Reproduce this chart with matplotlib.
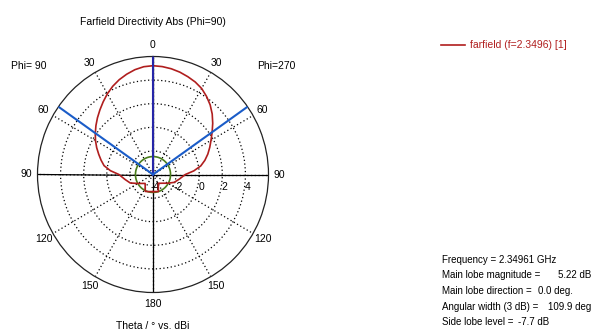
import numpy as np
import matplotlib
matplotlib.use("Agg")
import matplotlib.pyplot as plt

plt.rcParams['font.family'] = ['Liberation Sans', 'DejaVu Sans']

# Directivity cuts (dBi) versus theta (deg) for the two half-planes
theta_phi90 = [0, 5, 10, 15, 20, 25, 30, 35, 40, 45, 50, 55, 60, 65, 70, 75, 80, 85, 90,
               100, 110, 120, 130, 138, 145, 155, 165, 180]
dbi_phi90 = [5.22, 5.17, 5.02, 4.8, 4.55, 4.25, 3.9, 3.52, 3.15, 2.8, 2.45, 2.1, 1.75,
             1.38, 1.0, 0.65, 0.3, -0.3, -1.05,
             -1.55, -1.9, -2.48, -2.82, -2.98, -2.82, -2.42, -2.5, -2.55]

theta_phi270 = [0, 5, 10, 15, 20, 25, 30, 35, 40, 45, 50, 55, 60, 65, 70, 75, 80, 85, 90,
                100, 110, 120, 130, 140, 148, 155, 162, 170, 180]
dbi_phi270 = [5.22, 5.18, 5.1, 4.98, 4.82, 4.65, 4.42, 4.08, 3.7, 3.25, 2.75, 2.25, 1.8,
              1.42, 1.05, 0.65, 0.2, -0.45, -1.2,
              -1.7, -2.05, -2.52, -2.85, -3.03, -3.13, -2.91, -2.48, -2.53, -2.55]

main_lobe_mag = 5.22
main_lobe_dir = 0.0
angular_width = 109.9
side_lobe_level = -7.7
frequency = 2.34961

r_min, r_max = -4, 6
r_ticks = [-2, 0, 2, 4]
r_labels = [-4, -2, 0, 2, 4]
theta_ticks = [0, 30, 60, 90, 120, 150, 180, 210, 240, 270, 300, 330]

W, H = 603, 334
fig = plt.figure(figsize=(W / 100, H / 100), dpi=100)

cx, cy = 153, 174.5
rx, ry = 115.5, 118
ax = fig.add_axes([(cx - rx) / W, (H - cy - ry) / H, 2 * rx / W, 2 * ry / H],
                  projection='polar')
ax.set_theta_zero_location('N')
ax.set_theta_direction(1)
ax.set_ylim(r_min, r_max)
ax.set_aspect('auto')

# dotted grid
ax.set_yticks(r_ticks)
ax.set_xticks(np.deg2rad(theta_ticks))
ax.set_yticklabels([])
ax.set_xticklabels([])
ax.tick_params(length=0)
ax.grid(True, color='black', linestyle=(0, (1, 2)), linewidth=0.9)
ax.spines['polar'].set_color('#222222')
ax.spines['polar'].set_linewidth(0.9)

# solid axis cross
ax.plot([0, 0, np.pi], [r_max, r_min, r_max], color='black', lw=0.9)
ax.plot([np.pi / 2, np.pi / 2, -np.pi / 2], [r_max, r_min, r_max], color='black', lw=0.9)

# pattern: left half is Phi=90, right half is Phi=270
t90 = np.deg2rad(theta_phi90)
t270 = -np.deg2rad(theta_phi270)
theta_all = np.concatenate([t270[::-1], t90])
r_all = np.concatenate([dbi_phi270[::-1], dbi_phi90])
ax.plot(theta_all, r_all, color='#b01e1e', lw=1.2, zorder=5)

# side lobe level circle
sl = main_lobe_mag + side_lobe_level
circ = np.linspace(0, 2 * np.pi, 361)
ax.plot(circ, np.full_like(circ, sl), color='#4a7d1c', lw=1.2, zorder=4)

# main lobe direction and 3 dB beamwidth
md = np.deg2rad(main_lobe_dir)
ax.plot([md, md], [r_min, r_max], color='#2626a8', lw=1.5, zorder=6)
hw = np.deg2rad(angular_width / 2)
ax.plot([md + hw, md + hw, md - hw], [r_max, r_min, r_max], color='#1a5cc8', lw=1.5, zorder=6)

fs = 7.5
# theta labels
for t in theta_ticks:
    lab = t if t <= 180 else 360 - t
    ax.text(np.deg2rad(t), 6.95, str(lab), ha='center', va='center', fontsize=fs,
            clip_on=False)

# radial labels along the right horizontal axis
for v in r_labels:
    ax.annotate(str(v), xy=(-np.pi / 2, v), xytext=(2, -13), textcoords='offset pixels',
                ha='center', va='center', fontsize=fs, annotation_clip=False)

fig.text(153 / W, 1 - 22 / H, 'Farfield Directivity Abs (Phi=90)', ha='center', va='center', fontsize=fs)
fig.text(29 / W, 1 - 66 / H, 'Phi= 90', ha='center', va='center', fontsize=fs)
fig.text(276 / W, 1 - 66 / H, 'Phi=270', ha='center', va='center', fontsize=fs)
fig.text(153 / W, 1 - 326 / H, 'Theta / \u00b0 vs. dBi', ha='center', va='center', fontsize=fs)

# legend
fig.lines.append(plt.Line2D([441 / W, 465 / W], [1 - 45 / H, 1 - 45 / H], color='#b01e1e',
                            lw=1.2, transform=fig.transFigure))
fig.text(470 / W, 1 - 45 / H, 'farfield (f=2.3496) [1]', ha='left', va='center',
         fontsize=fs, color='#b01e1e')

# summary block
info = [
    ('Frequency = %.5f GHz' % frequency, None),
    ('Main lobe magnitude =', '%.2f dB' % main_lobe_mag),
    ('Main lobe direction =', '%.1f deg.' % main_lobe_dir),
    ('Angular width (3 dB) =', '%.1f deg' % angular_width),
    ('Side lobe level =', '%.1f dB' % side_lobe_level),
]
value_x = [None, 558, 538, 548, 518]
fs_info = 7
for i, (lab, val) in enumerate(info):
    y = 1 - (260 + 15.5 * i) / H
    fig.text(442 / W, y, lab, ha='left', va='center', fontsize=fs_info)
    if val is not None:
        fig.text(value_x[i] / W, y, val, ha='left', va='center', fontsize=fs_info)

fig.savefig('out.png', dpi=100)
